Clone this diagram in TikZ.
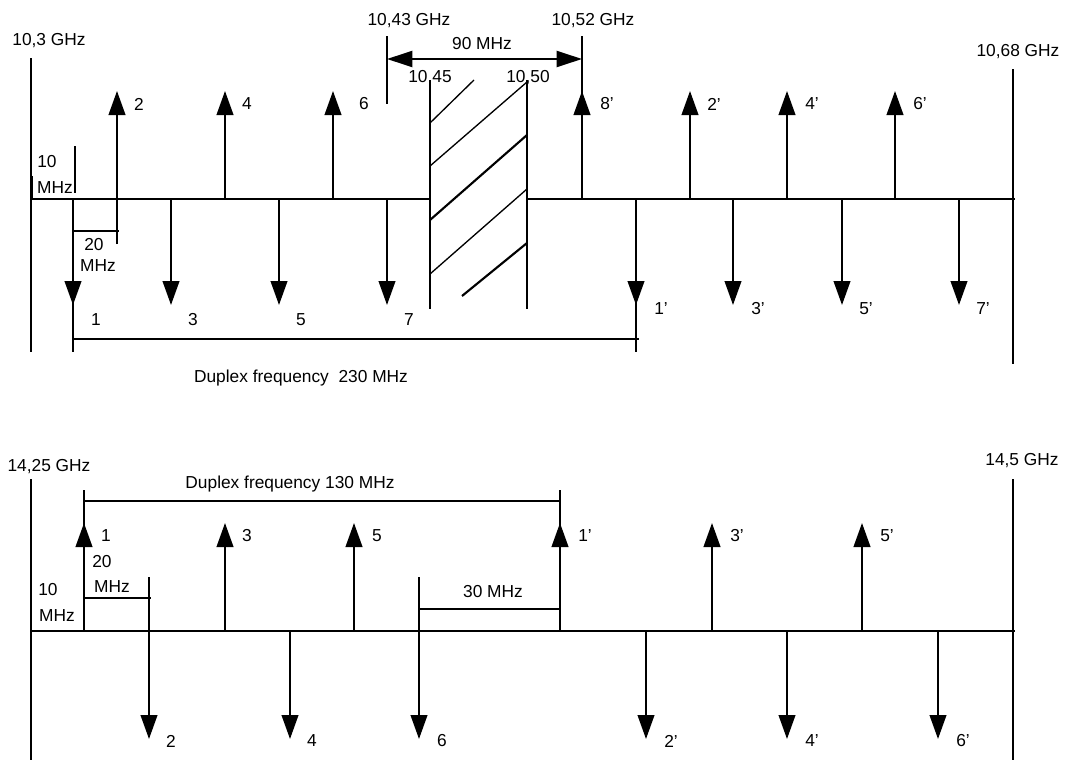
\documentclass[tikz,border=0pt]{standalone}
\usepackage{fontspec}
\setmainfont{Liberation Sans}
\usepackage{tikz}
\usetikzlibrary{arrows.meta}
\tikzset{
  bandline/.style={line width=1.5pt},
  carrierarrow/.style={-{Triangle[length=18pt,width=12.5pt]},line width=1.5pt},
  spanarrow/.style={{Triangle[length=19pt,width=12pt]}-{Triangle[length=19pt,width=12pt]},line width=1.5pt},
  measureline/.style={line width=1.2pt},
  hatchthin/.style={line width=1pt},
  hatchthick/.style={line width=1.6pt},
  freqlabel/.style={font=\fontsize{13}{15}\selectfont,inner sep=0pt}
}

\begin{document}
\begin{tikzpicture}[x=0.75pt,y=-0.75pt]
  \useasboundingbox (0,0) rectangle (1065,760);
  % upper band
  \node[freqlabel] (alow) at (49,41) {10,3 GHz};
  \node[freqlabel] (ahigh) at (1018,52) {10,68 GHz};
  \node[freqlabel] (aguardl) at (409,21) {10,43 GHz};
  \node[freqlabel] (aguardr) at (593,21) {10,52 GHz};
  \node[freqlabel] (aspan) at (482,44) {90 MHz};
  \node[freqlabel] (abandl) at (430,78) {10,45};
  \node[freqlabel] (abandr) at (528,78) {10,50};
  \draw[bandline] (31,58) -- (31,352);
  \draw[bandline] (1013,69) -- (1013,364);
  \coordinate (aaxl) at (31,199);
  \coordinate (aaxm) at (430,199);
  \coordinate (aaxn) at (527,199);
  \coordinate (aaxr) at (1015,199);
  \draw[bandline] (aaxl) -- (aaxm);
  \draw[bandline] (aaxn) -- (aaxr);
  \draw[bandline] (430,80) -- (430,309);
  \draw[bandline] (527,80) -- (527,309);
  \draw[hatchthin] (430,123) -- (474,80);
  \draw[hatchthin] (430,166) -- (527,82);
  \draw[hatchthick] (430,220) -- (527,135);
  \draw[hatchthin] (430,274) -- (527,189);
  \draw[hatchthick] (462,296) -- (527,243);
  \coordinate (aone) at (73,199);          \coordinate (aonetip) at (73,305);
  \coordinate (athree) at (171,199);       \coordinate (athreetip) at (171,305);
  \coordinate (afive) at (279,199);        \coordinate (afivetip) at (279,305);
  \coordinate (aseven) at (387,199);       \coordinate (aseventip) at (387,305);
  \coordinate (aoneprime) at (636,199);    \coordinate (aoneprimetip) at (636,305);
  \coordinate (athreeprime) at (733,199);  \coordinate (athreeprimetip) at (733,305);
  \coordinate (afiveprime) at (842,199);   \coordinate (afiveprimetip) at (842,305);
  \coordinate (asevenprime) at (959,199);  \coordinate (aseveprimetip) at (959,305);
  \coordinate (atwo) at (117,244);         \coordinate (atwotip) at (117,91);
  \coordinate (afour) at (225,199);        \coordinate (afourtip) at (225,91);
  \coordinate (asix) at (333,199);         \coordinate (asixtip) at (333,91);
  \coordinate (aeightprime) at (582,199);  \coordinate (aeightprimetip) at (582,91);
  \coordinate (atwoprime) at (690,199);    \coordinate (atwoprimetip) at (690,91);
  \coordinate (afourprime) at (787,199);   \coordinate (afourprimetip) at (787,91);
  \coordinate (asixprime) at (895,199);    \coordinate (asixprimetip) at (895,91);
  \draw[carrierarrow] (aone) -- (aonetip);
  \draw[carrierarrow] (athree) -- (athreetip);
  \draw[carrierarrow] (afive) -- (afivetip);
  \draw[carrierarrow] (aseven) -- (aseventip);
  \draw[carrierarrow] (aoneprime) -- (aoneprimetip);
  \draw[carrierarrow] (athreeprime) -- (athreeprimetip);
  \draw[carrierarrow] (afiveprime) -- (afiveprimetip);
  \draw[carrierarrow] (asevenprime) -- (aseveprimetip);
  \draw[carrierarrow] (atwo) -- (atwotip);
  \draw[carrierarrow] (afour) -- (afourtip);
  \draw[carrierarrow] (asix) -- (asixtip);
  \draw[carrierarrow] (aeightprime) -- (aeightprimetip);
  \draw[carrierarrow] (atwoprime) -- (atwoprimetip);
  \draw[carrierarrow] (afourprime) -- (afourprimetip);
  \draw[carrierarrow] (asixprime) -- (asixprimetip);
  \node[freqlabel] (aonelabel) at (96,320) {1};
  \node[freqlabel] (athreelabel) at (193,320) {3};
  \node[freqlabel] (afivelabel) at (301,320) {5};
  \node[freqlabel] (asevenlabel) at (409,320) {7};
  \node[freqlabel] (aoneprimelabel) at (661,309) {1'};
  \node[freqlabel] (athreeprimelabel) at (758,309) {3'};
  \node[freqlabel] (afiveprimelabel) at (866,309) {5'};
  \node[freqlabel] (asevenprimelabel) at (983,309) {7'};
  \node[freqlabel] (atwolabel) at (139,104) {2};
  \node[freqlabel] (afourlabel) at (247,104) {4};
  \node[freqlabel] (asixlabel) at (364,104) {6};
  \node[freqlabel] (aeightprimelabel) at (607,104) {8'};
  \node[freqlabel] (atwoprimelabel) at (714,104) {2'};
  \node[freqlabel] (afourprimelabel) at (812,104) {4'};
  \node[freqlabel] (asixprimelabel) at (920,104) {6'};
  % spacings and duplex distance
  \coordinate (aonelow) at (73,352);
  \coordinate (aoneprimelow) at (636,352);
  \coordinate (aeighttop) at (582,36);
  \coordinate (aguardtop) at (387,36);
  \coordinate (aguardbot) at (387,104);
  \draw[measureline] (aone) -- (aonelow);
  \draw[measureline] (aoneprime) -- (aoneprimelow);
  \draw[measureline] (aeighttop) -- (aeightprime);
  \draw[measureline] (aguardtop) -- (aguardbot);
  \coordinate (aspanl) at (387,59);
  \coordinate (aspanr) at (582,59);
  \draw[spanarrow] (aspanl) -- (aspanr);
  \coordinate (aduplexl) at (73,339);
  \coordinate (aduplexr) at (639,339);
  \draw[measureline] (aduplexl) -- (aduplexr);
  \node[freqlabel] (aduplex) at (301,378) {Duplex frequency\ \ 230 MHz};
  \coordinate (atwentyl) at (73,231);
  \coordinate (atwentyr) at (119,231);
  \draw[measureline] (atwentyl) -- (atwentyr);
  \node[freqlabel] (atwentya) at (94,245) {20};
  \node[freqlabel] (atwentyb) at (98,266) {MHz};
  \draw[line width=2pt] (32,176) -- (32,199);
  \draw[measureline] (75,146) -- (75,193);
  \node[freqlabel] (atena) at (47,162) {10};
  \node[freqlabel] (atenb) at (55,188) {MHz};

  % lower band
  \node[freqlabel] (blow) at (49,467) {14,25 GHz};
  \node[freqlabel] (bhigh) at (1022,461) {14,5 GHz};
  \draw[bandline] (31,479) -- (31,760);
  \draw[bandline] (1013,479) -- (1013,760);
  \coordinate (baxl) at (31,631);
  \coordinate (baxr) at (1015,631);
  \draw[bandline] (baxl) -- (baxr);
  \coordinate (bone) at (84,631);          \coordinate (bonetip) at (84,523);
  \coordinate (bthree) at (225,631);       \coordinate (bthreetip) at (225,523);
  \coordinate (bfive) at (354,631);        \coordinate (bfivetip) at (354,523);
  \coordinate (boneprime) at (560,631);    \coordinate (boneprimetip) at (560,523);
  \coordinate (bthreeprime) at (712,631);  \coordinate (bthreeprimetip) at (712,523);
  \coordinate (bfiveprime) at (862,631);   \coordinate (bfiveprimetip) at (862,523);
  \coordinate (btwo) at (149,577);         \coordinate (btwotip) at (149,739);
  \coordinate (bfour) at (290,631);        \coordinate (bfourtip) at (290,739);
  \coordinate (bsix) at (419,577);         \coordinate (bsixtip) at (419,739);
  \coordinate (btwoprime) at (646,631);    \coordinate (btwoprimetip) at (646,739);
  \coordinate (bfourprime) at (787,631);   \coordinate (bfourprimetip) at (787,739);
  \coordinate (bsixprime) at (938,631);    \coordinate (bsixprimetip) at (938,739);
  \draw[carrierarrow] (bone) -- (bonetip);
  \draw[carrierarrow] (bthree) -- (bthreetip);
  \draw[carrierarrow] (bfive) -- (bfivetip);
  \draw[carrierarrow] (boneprime) -- (boneprimetip);
  \draw[carrierarrow] (bthreeprime) -- (bthreeprimetip);
  \draw[carrierarrow] (bfiveprime) -- (bfiveprimetip);
  \draw[carrierarrow] (btwo) -- (btwotip);
  \draw[carrierarrow] (bfour) -- (bfourtip);
  \draw[carrierarrow] (bsix) -- (bsixtip);
  \draw[carrierarrow] (btwoprime) -- (btwoprimetip);
  \draw[carrierarrow] (bfourprime) -- (bfourprimetip);
  \draw[carrierarrow] (bsixprime) -- (bsixprimetip);
  \node[freqlabel] (bonelabel) at (106,536) {1};
  \node[freqlabel] (bthreelabel) at (247,536) {3};
  \node[freqlabel] (bfivelabel) at (377,536) {5};
  \node[freqlabel] (boneprimelabel) at (585,536) {1'};
  \node[freqlabel] (bthreeprimelabel) at (737,536) {3'};
  \node[freqlabel] (bfiveprimelabel) at (887,536) {5'};
  \node[freqlabel] (btwolabel) at (171,741) {2};
  \node[freqlabel] (bfourlabel) at (312,741) {4};
  \node[freqlabel] (bsixlabel) at (442,741) {6};
  \node[freqlabel] (btwoprimelabel) at (671,741) {2'};
  \node[freqlabel] (bfourprimelabel) at (812,741) {4'};
  \node[freqlabel] (bsixprimelabel) at (963,741) {6'};
  % spacings and duplex distance
  \coordinate (bonetop) at (84,490);
  \coordinate (boneprimetop) at (560,490);
  \draw[measureline] (bonetop) -- (bone);
  \draw[measureline] (boneprimetop) -- (boneprime);
  \coordinate (bduplexl) at (84,501);
  \coordinate (bduplexr) at (560,501);
  \draw[measureline] (bduplexl) -- (bduplexr);
  \node[freqlabel] (bduplex) at (290,484) {Duplex frequency 130 MHz};
  \coordinate (btwentyl) at (84,598);
  \coordinate (btwentyr) at (151,598);
  \draw[measureline] (btwentyl) -- (btwentyr);
  \node[freqlabel] (btwentya) at (102,562) {20};
  \node[freqlabel] (btwentyb) at (112,587) {MHz};
  \node[freqlabel] (btena) at (48,590) {10};
  \node[freqlabel] (btenb) at (57,616) {MHz};
  \coordinate (bthirtyl) at (419,609);
  \coordinate (bthirtyr) at (560,609);
  \draw[measureline] (bthirtyl) -- (bthirtyr);
  \node[freqlabel] (bthirty) at (493,592) {30 MHz};
\end{tikzpicture}
\end{document}
